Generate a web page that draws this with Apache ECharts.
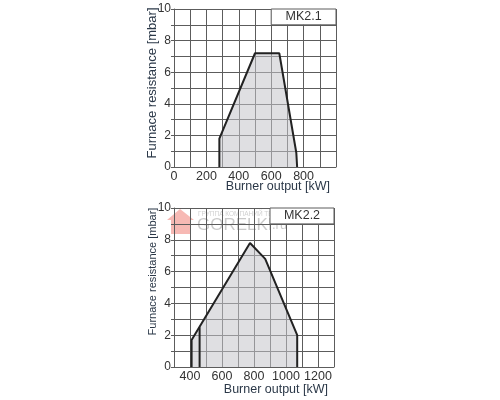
<!DOCTYPE html>
<html>
<head>
<meta charset="utf-8">
<script src="https://cdn.jsdelivr.net/npm/echarts@6/dist/echarts.min.js"></script>
<style>
  html, body { margin: 0; padding: 0; background: #fff; }
  #chart { width: 500px; height: 400px; }
</style>
</head>
<body>
<div id="chart"></div>
<script>
// MK2.1 working field (burner output kW, furnace resistance mbar)
const mk21Output = [280, 280, 500, 650, 755, 760];
const mk21Resistance = [0, 1.8, 7.2, 7.2, 0.9, 0];

// MK2.2 working field
const mk22Output = [410, 410, 775, 870, 1070, 1070];
const mk22Resistance = [0, 1.7, 7.8, 6.8, 2.0, 0];
// inner limit line of MK2.2
const mk22InnerOutput = [460, 460];
const mk22InnerResistance = [0, 2.5];

const modelNames = ['MK2.1', 'MK2.2'];
const xNameText = 'Burner output [kW]';
const yNameText = 'Furnace resistance [mbar]';

const font = '"Liberation Sans", Arial, sans-serif';
const gridColor = '#5c5c5c';
const textColor = '#333';
const nameColor = '#2b3848';

function pairs(xs, ys) {
  return xs.map((x, i) => [x, ys[i]]);
}

function xAxisFor(gridIndex, min, max, labelFilter, nameTop) {
  return {
    gridIndex: gridIndex,
    type: 'value',
    min: min,
    max: max,
    interval: 100,
    axisLine: { show: true, lineStyle: { color: gridColor, width: 1 } },
    axisTick: { show: false },
    splitLine: { show: true, lineStyle: { color: gridColor, width: 1 } },
    axisLabel: {
      color: textColor,
      fontFamily: font,
      fontSize: 12.5,
      margin: 3,
      formatter: (v) => labelFilter(v) ? String(v) : ''
    },
    name: xNameText,
    nameLocation: 'end',
    nameGap: -6,
    nameMoveOverlap: false,
    nameTextStyle: {
      color: nameColor,
      fontFamily: font,
      fontSize: 12.5,
      align: 'right',
      verticalAlign: 'top',
      padding: [nameTop, 0, 0, 0]
    }
  };
}

function yAxisFor(gridIndex, fontSize, gap, shiftUp) {
  return {
    gridIndex: gridIndex,
    type: 'value',
    min: 0,
    max: 10,
    interval: 1,
    axisLine: { show: true, lineStyle: { color: gridColor, width: 1 } },
    axisTick: { show: true, length: 3, lineStyle: { color: gridColor } },
    splitLine: { show: true, lineStyle: { color: gridColor, width: 1 } },
    axisLabel: {
      color: textColor,
      fontFamily: font,
      fontSize: 12,
      margin: 3,
      formatter: (v) => v % 2 === 0 ? String(v) : ''
    },
    name: yNameText,
    nameLocation: 'middle',
    nameGap: gap,
    nameMoveOverlap: false,
    nameTextStyle: {
      color: nameColor,
      fontFamily: font,
      fontSize: fontSize,
      padding: [0, 0, 0, shiftUp]
    }
  };
}

function labelBox(name, x0, x1) {
  return {
    silent: true,
    itemStyle: { color: '#fff', borderColor: gridColor, borderWidth: 1 },
    label: {
      show: true,
      position: 'inside',
      formatter: '{b}',
      color: textColor,
      fontFamily: font,
      fontSize: 12.5
    },
    data: [[{ name: name, coord: [x0, 9] }, { coord: [x1, 10] }]]
  };
}

const fieldLine = { color: '#222', width: 2 };
const fieldArea = { color: '#c4c5ca', opacity: 0.55 };

const chart = echarts.init(document.getElementById('chart'), null, { renderer: 'canvas' });

chart.setOption({
  animation: false,
  backgroundColor: '#fff',
  grid: [
    { left: 174, top: 9, width: 162, height: 158 },
    { left: 174, top: 208, width: 160, height: 159 }
  ],
  xAxis: [
    xAxisFor(0, 0, 1000, (v) => v % 200 === 0 && v < 1000, 13),
    xAxisFor(1, 300, 1300, (v) => v % 200 === 0 && v >= 400 && v <= 1200, 16)
  ],
  yAxis: [yAxisFor(0, 13, 15, 10), yAxisFor(1, 11, 16, 32)],
  graphic: [
    {
      type: 'polygon',
      shape: { points: [[167, 220], [180, 209], [194, 220], [190, 220], [190, 234], [171, 234], [171, 220]] },
      style: { fill: 'rgba(240, 115, 105, 0.5)' },
      silent: true
    },
    {
      type: 'text', left: 198, top: 211,
      style: { text: 'ГРУППА КОМПАНИЙ ТЕХГРУПП', fill: 'rgba(150,150,150,0.45)', font: '6.5px ' + font },
      silent: true
    },
    {
      type: 'text', left: 197, top: 217,
      style: { text: 'GORELKI', fill: 'rgba(150,150,150,0.5)', font: '17px ' + font },
      silent: true
    },
    {
      type: 'text', left: 272, top: 219,
      style: { text: '.ru', fill: 'rgba(150,150,150,0.5)', font: '13px ' + font },
      silent: true
    }
  ],
  series: [
    {
      name: modelNames[0],
      type: 'line',
      xAxisIndex: 0,
      yAxisIndex: 0,
      data: pairs(mk21Output, mk21Resistance),
      symbol: 'none',
      lineStyle: fieldLine,
      areaStyle: fieldArea,
      markArea: labelBox(modelNames[0], 600, 1000)
    },
    {
      name: modelNames[1],
      type: 'line',
      xAxisIndex: 1,
      yAxisIndex: 1,
      data: pairs(mk22Output, mk22Resistance),
      symbol: 'none',
      lineStyle: fieldLine,
      areaStyle: fieldArea,
      markArea: labelBox(modelNames[1], 900, 1300)
    },
    {
      name: modelNames[1] + ' inner',
      type: 'line',
      xAxisIndex: 1,
      yAxisIndex: 1,
      data: pairs(mk22InnerOutput, mk22InnerResistance),
      symbol: 'none',
      lineStyle: fieldLine
    }
  ]
});
</script>
</body>
</html>
